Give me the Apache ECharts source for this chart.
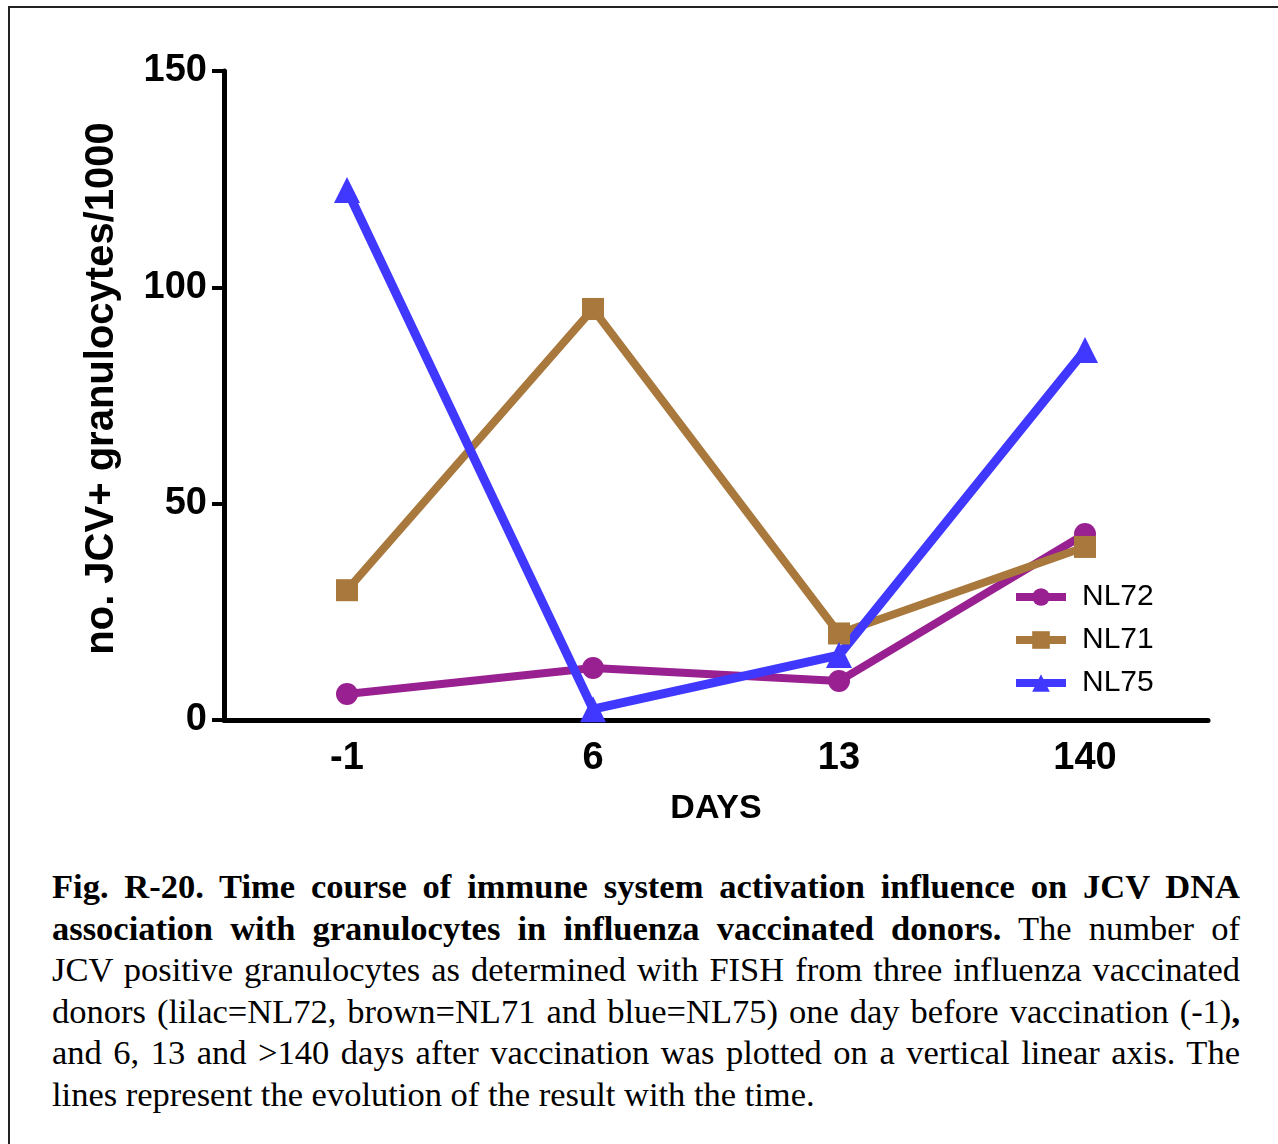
<!DOCTYPE html>
<html>
<head>
<meta charset="utf-8">
<title>JCV granulocytes</title>
<script src="https://cdn.jsdelivr.net/npm/echarts@6/dist/echarts.min.js"></script>
<style>
	body { margin: 0; background: #fff; }
	#wrap { position: relative; width: 1278px; height: 1144px; overflow: hidden; }
	#frame { position: absolute; left: 8px; top: 6px; width: 1300px; height: 1200px;
		border-left: 2px solid #222; border-top: 2px solid #222; }
	#chart { position: absolute; left: 0; top: 0; width: 1278px; height: 850px; }
	#caption { position: absolute; left: 52px; top: 866px; width: 1188px;
		font-family: "Liberation Serif", serif; font-size: 34.5px; line-height: 41.6px; color: #000; }
	#caption .l { text-align: justify; text-align-last: justify; }
	#caption .last { text-align: left; }
</style>
</head>
<body>
<div id="wrap">
	<div id="frame"></div>
	<div id="chart"></div>
	<div id="caption">
		<div class="l"><b>Fig. R-20. Time course of immune system activation influence on JCV DNA</b></div>
		<div class="l"><b>association with granulocytes in influenza vaccinated donors.</b> The number of</div>
		<div class="l">JCV positive granulocytes as determined with FISH from three influenza vaccinated</div>
		<div class="l">donors (lilac=NL72, brown=NL71 and blue=NL75) one day before vaccination (-1)<b>,</b></div>
		<div class="l">and 6, 13 and &gt;140 days after vaccination was plotted on a vertical linear axis. The</div>
		<div class="last">lines represent the evolution of the result with the time.</div>
	</div>
</div>
<script>
var days = ['-1', '6', '13', '140'];
var nl72 = [6, 12, 9, 43];
var nl71 = [30, 95, 20, 40];
var nl75 = [122.5, 2.5, 15, 85.5];

var SANS = '"Liberation Sans", Arial, sans-serif';

var Chart = {
	load: function() {
		var chart = echarts.init(document.getElementById('chart'));
		var option = {
			animation: false,
			grid: {
				left: 224,
				right: 70,
				top: 71,
				bottom: 130
			},
			legend: {
				orient: 'vertical',
				left: 1007,
				top: 577,
				itemWidth: 50,
				itemHeight: 22,
				itemGap: 13,
				lineStyle: { width: 8 },
				textStyle: {
					fontFamily: SANS,
					fontSize: 30,
					color: '#000',
					padding: [0, 0, 0, 11]
				},
				data: ['NL72', 'NL71', 'NL75']
			},
			xAxis: {
				type: 'category',
				data: days,
				boundaryGap: true,
				name: 'DAYS',
				nameLocation: 'middle',
				nameGap: 72,
				nameTextStyle: {
					fontFamily: SANS,
					fontSize: 34,
					fontWeight: 'bold',
					color: '#000'
				},
				axisLine: {
					lineStyle: { color: '#000', width: 5 }
				},
				axisTick: {
					alignWithLabel: true,
					length: 11,
					lineStyle: { color: '#000', width: 4 }
				},
				axisLabel: {
					fontFamily: SANS,
					fontSize: 38,
					fontWeight: 'bold',
					color: '#000',
					margin: 20
				},
				splitLine: { show: false }
			},
			yAxis: {
				type: 'value',
				min: 0,
				max: 150,
				interval: 50,
				name: 'no. JCV+ granulocytes/1000',
				nameLocation: 'middle',
				nameGap: 102,
				nameTextStyle: {
					fontFamily: SANS,
					fontSize: 40,
					fontWeight: 'bold',
					color: '#000',
					padding: [0, 0, 0, 14]
				},
				axisLine: {
					show: true,
					lineStyle: { color: '#000', width: 5 }
				},
				axisTick: {
					show: true,
					length: 12,
					lineStyle: { color: '#000', width: 4 }
				},
				axisLabel: {
					fontFamily: SANS,
					fontSize: 38,
					fontWeight: 'bold',
					color: '#000',
					margin: 17
				},
				splitLine: { show: false }
			},
			series: [{
				name: 'NL72',
				type: 'line',
				data: nl72,
				symbol: 'circle',
				symbolSize: 22,
				color: '#992090',
				lineStyle: { width: 8 }
			}, {
				name: 'NL71',
				type: 'line',
				data: nl71,
				symbol: 'rect',
				symbolSize: 22,
				color: '#A8783C',
				lineStyle: { width: 8 }
			}, {
				name: 'NL75',
				type: 'line',
				data: nl75,
				symbol: 'triangle',
				symbolSize: 26,
				color: '#4038FF',
				lineStyle: { width: 9 }
			}]
		};
		chart.setOption(option);
	}
};
Chart.load();
</script>
</body>
</html>
